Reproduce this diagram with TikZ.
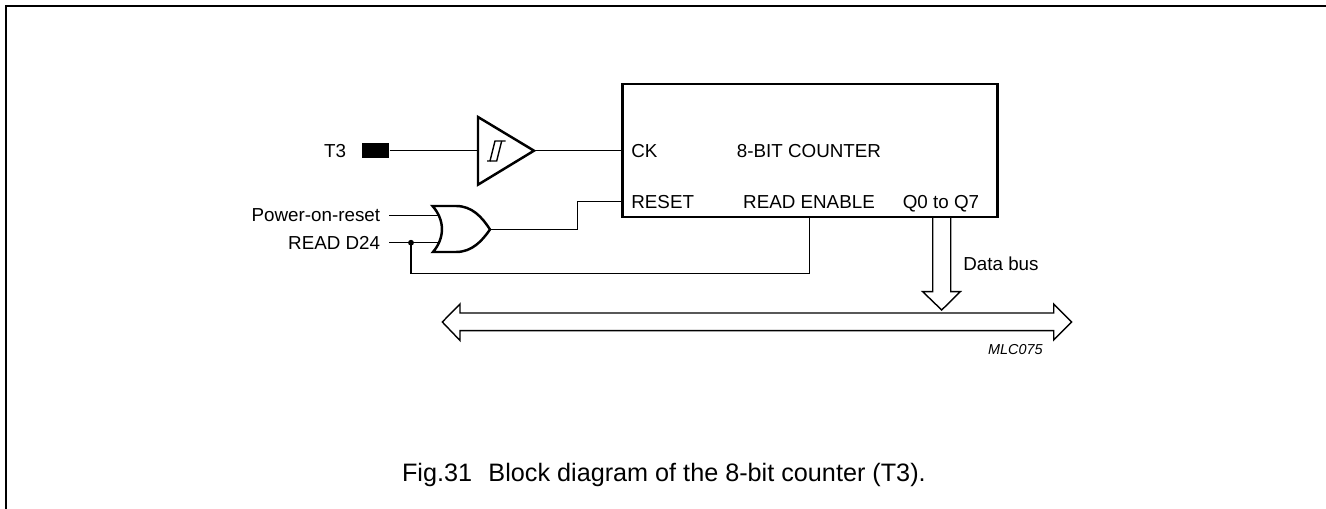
\documentclass[tikz,border=0pt]{standalone}
\usepackage{fontspec}
\setmainfont{Liberation Sans}
\tikzset{
  wire/.style={line width=.8pt},
  heavy/.style={line width=1.4pt},
  label/.style={font=\fontsize{10.7}{12}\selectfont,inner sep=0pt},
}
\begin{document}
\begin{tikzpicture}[x=.02cm,y=-.02cm,every node/.style={label}]
    \useasboundingbox (0,0) rectangle (1326,509);
    \coordinate (framea) at (1326,6);
    \coordinate (frameb) at (6,6);
    \coordinate (framec) at (6,509);
    \draw[heavy] (framea) -- (frameb) -- (framec);
    % counter block
    \node[draw,heavy,minimum width=7.5cm,minimum height=2.66cm] (counter) at (810,150.5) {};
    \node[anchor=base west] (ck) at (631,157.5) {CK};
    \node[anchor=base] (title) at (809,157.5) {8-BIT COUNTER};
    \node[anchor=base west] (reset) at (631,209) {RESET};
    \node[anchor=base] (readen) at (809,209) {READ ENABLE};
    \node[anchor=base] (qout) at (941,209) {Q0 to Q7};
    % input pin and buffer
    \node[anchor=base] (tthree) at (335,157.3) {T3};
    \node[fill=black,minimum width=.55cm,minimum height=.3cm] (pad) at (375.5,150.7) {};
    \coordinate (bufin) at (478,150.7);
    \coordinate (bufout) at (534,150.7);
    \draw[heavy,line join=miter] (478,117) -- (bufout) -- (478,184.7) -- cycle;
    \draw[wire] (505.7,141) -- (495,141) -- (490,161) -- (487,161);
    \draw[wire] (501.7,141) -- (496.7,161) -- (490,161);
    \draw[wire] (pad.east) -- (bufin);
    \draw[wire] (bufout) -- (bufout -| counter.west);
    % or gate
    \node[anchor=base east] (por) at (380.5,221.7) {Power-on-reset};
    \node[anchor=base east] (rdd) at (380.5,249.5) {READ D24};
    \coordinate (porpin) at (389.3,215.7);
    \coordinate (rddpin) at (389.3,242.7);
    \coordinate (orain) at (437.5,215.7);
    \coordinate (orbin) at (437.5,242.7);
    \coordinate (orout) at (490,229.5);
    \draw[heavy] (432.5,206) -- (456,206) .. controls (472,206) and (482,217) .. (orout)
        .. controls (482,241) and (472,252) .. (456,252) -- (433,252)
        .. controls (445,238) and (445,220) .. cycle;
    \draw[wire] (porpin) -- (orain);
    \draw[wire] (rddpin) -- (orbin);
    \coordinate (resetpin) at (622.5,201.7);
    \draw[wire] (orout) -- (577.5,229.5) -- (577.5,201.7) -- (resetpin);
    \coordinate (dot) at (411,242.7);
    \coordinate (enpin) at (809.7,217.5);
    \fill (dot) circle (2.9);
    \draw[wire] (dot) -- (411,273.7) -- (809.7,273.7) -- (enpin);
    % data bus
    \draw[wire,fill=white] (442.3,322) -- (460,304) -- (460,313) -- (1053.7,313) -- (1053.7,304)
        -- (1071.7,322) -- (1053.7,340) -- (1053.7,330.7) -- (460,330.7) -- (460,340.5) -- cycle;
    \draw[wire] (932.7,217.5) -- (932.7,291.7) -- (922.7,291.7) -- (941.7,310)
        -- (960.3,291.7) -- (950.7,291.7) -- (950.7,217.5);
    \node[anchor=base west] (databus) at (963,271) {Data bus};
    \node[anchor=base east,font=\fontsize{8.2}{9}\selectfont\itshape] (code) at (1043,355) {MLC075};
    \node[anchor=base west,font=\fontsize{14.35}{16}\selectfont] (caption) at (401.7,481.5)
        {Fig.31\hspace{.65em}Block diagram of the 8-bit counter (T3).};
\end{tikzpicture}
\end{document}
